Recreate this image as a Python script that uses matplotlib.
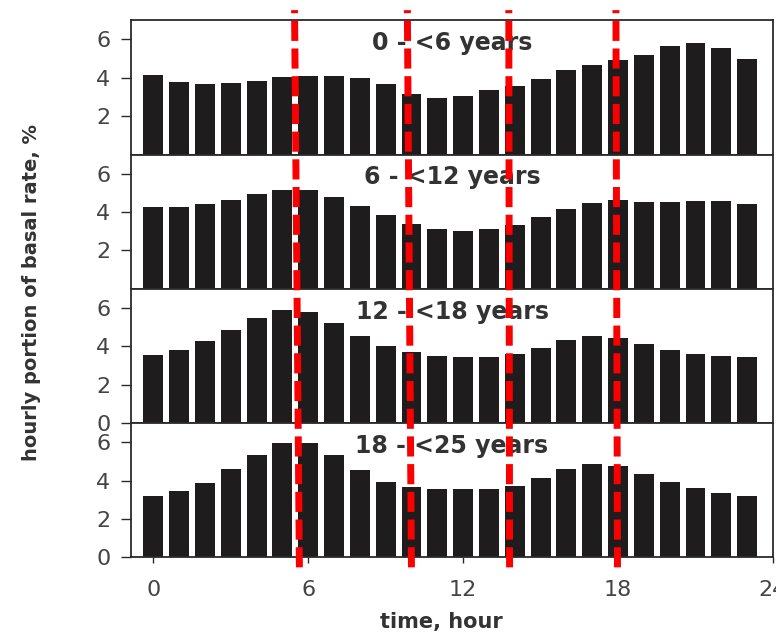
import matplotlib
matplotlib.use('Agg')
import matplotlib.pyplot as plt
import numpy as np
from matplotlib.lines import Line2D
from matplotlib.transforms import blended_transform_factory

hours = np.arange(0, 24)

age_0_6 = [4.17, 3.78, 3.68, 3.73, 3.85, 4.03, 4.11, 4.11, 4.01, 3.68, 3.18, 2.95,
           3.04, 3.35, 3.59, 3.96, 4.43, 4.67, 4.93, 5.19, 5.66, 5.82, 5.54, 5.00]
age_6_12 = [4.28, 4.28, 4.40, 4.63, 4.95, 5.13, 5.15, 4.80, 4.31, 3.84, 3.38, 3.10,
            3.01, 3.10, 3.34, 3.74, 4.17, 4.49, 4.61, 4.50, 4.52, 4.57, 4.56, 4.42]
age_12_18 = [3.56, 3.82, 4.27, 4.85, 5.49, 5.89, 5.77, 5.20, 4.53, 4.00, 3.72, 3.50,
             3.43, 3.43, 3.61, 3.89, 4.34, 4.53, 4.44, 4.14, 3.82, 3.59, 3.47, 3.43]
age_18_25 = [3.19, 3.46, 3.89, 4.58, 5.35, 5.96, 5.96, 5.33, 4.54, 3.93, 3.67, 3.54,
             3.54, 3.54, 3.72, 4.11, 4.60, 4.89, 4.77, 4.33, 3.95, 3.60, 3.37, 3.19]

groups = ['0 - <6 years', '6 - <12 years', '12 - <18 years', '18 - <25 years']
series = [age_0_6, age_6_12, age_12_18, age_18_25]

# red marker lines (top x, bottom x) in hours
marks_top = [5.47, 9.84, 13.77, 17.92]
marks_bot = [5.66, 10.0, 13.80, 17.98]

txt = '#333333'

fig, axes = plt.subplots(4, 1, sharex=True, figsize=(7.76, 6.34), dpi=100)
fig.subplots_adjust(left=0.169, right=0.996, top=0.968, bottom=0.121, hspace=0)

for i, ax in enumerate(axes):
    ax.bar(hours, series[i], width=0.77, color='#1e1c1c')
    ax.set_ylim(0, 7)
    ax.set_xlim(-0.86, 24)
    if i < 2:
        ax.set_yticks([2, 4, 6])
    else:
        ax.set_yticks([0, 2, 4, 6])
    ax.text(0.5, 0.83, groups[i], transform=ax.transAxes, ha='center', va='center',
            fontsize=17, fontweight='bold', color=txt)
    for s in ax.spines.values():
        s.set_color('#2a2a2a')
        s.set_linewidth(1.3)
    ax.tick_params(axis='y', direction='out', length=7, width=1, pad=8,
                   labelsize=16, labelcolor='#444444', color='#2a2a2a')
    if i < 3:
        ax.tick_params(axis='x', length=0)

axes[-1].set_xticks([0, 6, 12, 18, 24])
axes[-1].tick_params(axis='x', direction='out', length=4, width=1, pad=12,
                     labelsize=16, labelcolor='#444444', color='#2a2a2a')
axes[-1].set_xlabel('time, hour', fontsize=15, fontweight='bold', color=txt)
axes[-1].xaxis.set_label_coords(0.484, -0.41)

fig.text(0.040, 0.538, 'hourly portion of basal rate, %', rotation=90, ha='center',
         va='center', fontsize=14, fontweight='bold', color=txt)

tr = blended_transform_factory(axes[-1].transData, fig.transFigure)
for x0, x1 in zip(marks_top, marks_bot):
    ln = Line2D([x0, x1], [0.984, 0.095], transform=tr, color='#fa0000', lw=5,
                linestyle=(2.46, (2.9, 1.09)), clip_on=False)
    fig.add_artist(ln)

plt.savefig('out.png', dpi=100)
